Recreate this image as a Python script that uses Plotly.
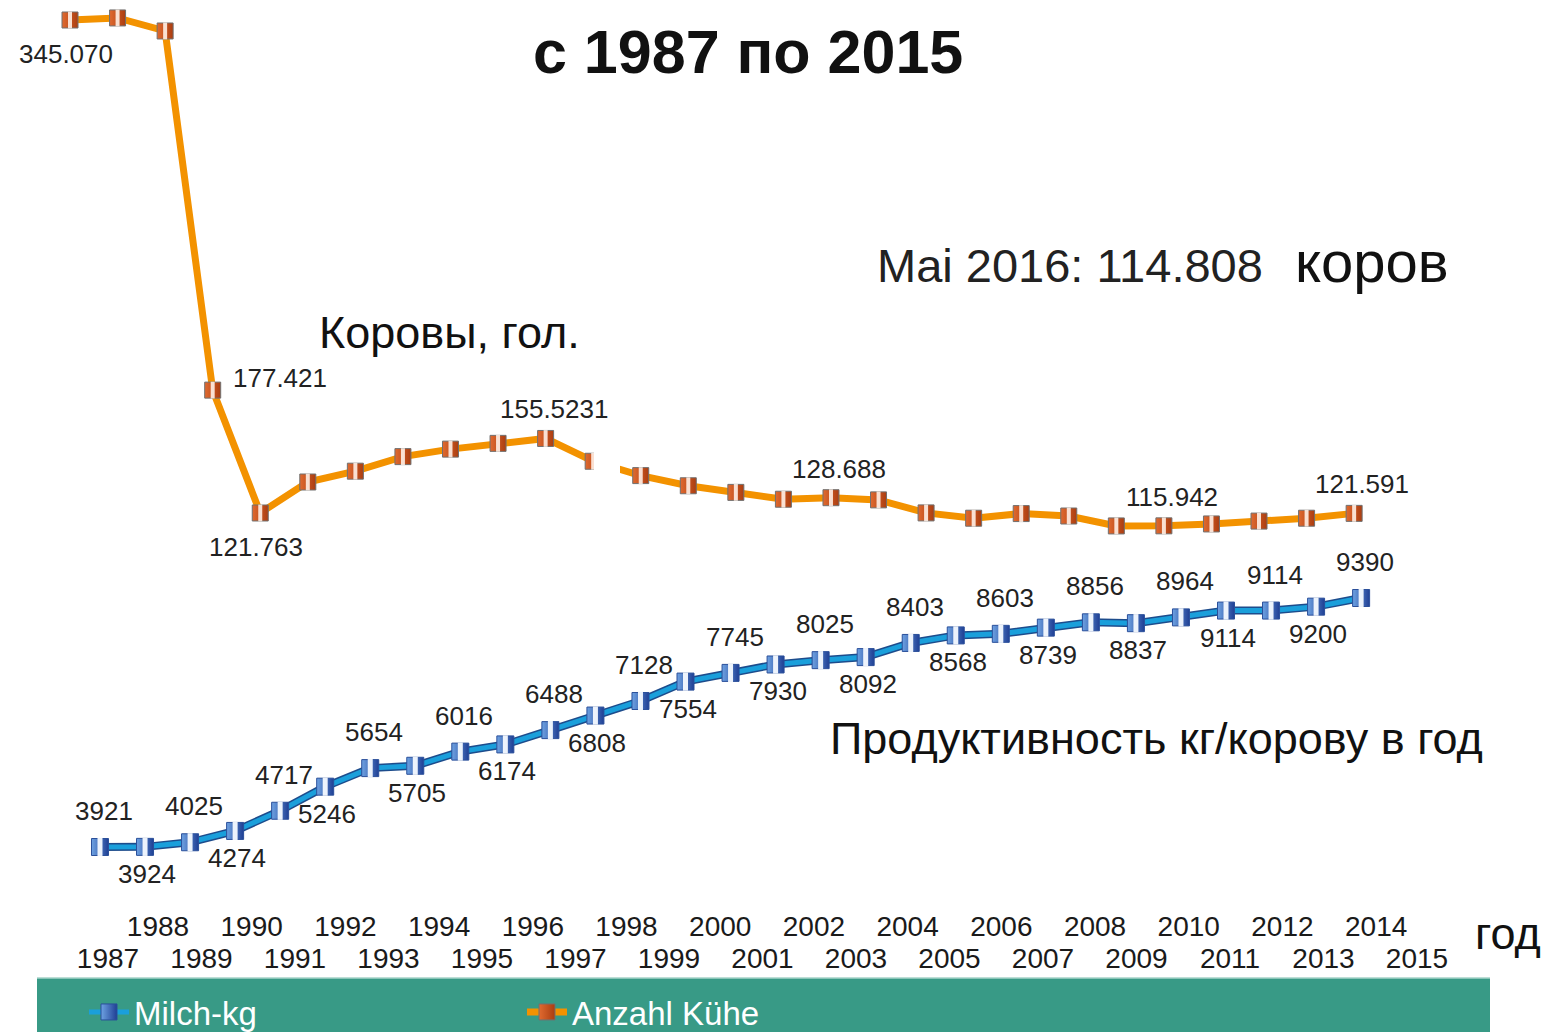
import plotly.graph_objects as go

# ---------------- data ----------------
years_milk = list(range(1987, 2016))
milk_kg = [3921, 3924, 4025, 4274, 4717, 5246, 5654, 5705, 6016, 6174,
           6488, 6808, 7128, 7554, 7745, 7930, 8025, 8092, 8403, 8568,
           8603, 8739, 8856, 8837, 8964, 9114, 9114, 9200, 9390]

years_cows = list(range(1987, 2015))
cows_thousand = [345.070, 346.0, 340.1, 177.421, 121.763, 135.8, 140.7, 147.3,
                 150.7, 153.3, 155.523, 145.2, 138.7, 134.1, 131.1, 128.0,
                 128.688, 127.7, 121.8, 119.4, 121.5, 120.4, 115.9, 115.942,
                 116.8, 118.1, 119.4, 121.591]
cow_labels = ["345.070", "", "", "177.421", "121.763", "", "", "", "", "",
              "155.5231", "", "", "", "", "", "128.688", "", "", "", "",
              "", "", "115.942", "", "", "", "121.591"]
cow_label_place = ["below", "", "", "right", "below", "", "", "", "", "",
                   "above", "", "", "", "", "", "above", "", "", "", "",
                   "", "", "above", "", "", "", "above"]

axis_years = list(range(1987, 2016))
odd_years = [y for y in axis_years if y % 2 == 1]
even_years = [y for y in axis_years if y % 2 == 0]

# ---------------- styles ----------------
W, H = 1542, 1032
SANS = "Liberation Sans, Arial, sans-serif"
ORANGE_LINE = "#f39200"
BLUE_LINE = "#1a9fdb"
BLUE_EDGE = "#1d4c8c"
TEAL = "#389a86"


def px(x, y):
    """page pixel -> paper fraction"""
    return x / W, 1 - y / H


fig = go.Figure()

# dummy traces so that the tick axes are drawn
fig.add_trace(go.Scatter(x=odd_years, y=[None] * len(odd_years), xaxis="x", yaxis="y",
                         showlegend=False, hoverinfo="skip", mode="markers"))
fig.add_trace(go.Scatter(x=even_years, y=[None] * len(even_years), xaxis="x2", yaxis="y",
                         showlegend=False, hoverinfo="skip", mode="markers"))

# cows series
fig.add_trace(go.Scatter(
    x=years_cows, y=cows_thousand, xaxis="x3", yaxis="y",
    mode="lines+markers", name="Anzahl Kühe", legendrank=2,
    line=dict(color=ORANGE_LINE, width=7),
    marker=dict(symbol="square", size=16, color="#e06a30",
                gradient=dict(type="horizontal", color="#ab3d10"),
                line=dict(color="#707070", width=1)),
    hoverinfo="x+y"))
fig.add_trace(go.Scatter(
    x=years_cows, y=cows_thousand, xaxis="x3", yaxis="y",
    mode="markers", showlegend=False, hoverinfo="skip",
    marker=dict(symbol="line-ns", size=12, line=dict(color="rgba(255,240,230,0.9)", width=4))))

# milk series
fig.add_trace(go.Scatter(
    x=years_milk, y=milk_kg, xaxis="x4", yaxis="y2",
    mode="lines", showlegend=False, hoverinfo="skip",
    line=dict(color=BLUE_EDGE, width=8)))
fig.add_trace(go.Scatter(
    x=years_milk, y=milk_kg, xaxis="x4", yaxis="y2",
    mode="lines+markers", name="Milch-kg", legendrank=1,
    line=dict(color=BLUE_LINE, width=5),
    marker=dict(symbol="square", size=17, color="#6ea2e2",
                gradient=dict(type="horizontal", color="#1f3f94"),
                line=dict(color="#2a4f9a", width=1)),
    hoverinfo="x+y"))
fig.add_trace(go.Scatter(
    x=years_milk, y=milk_kg, xaxis="x4", yaxis="y2",
    mode="markers", showlegend=False, hoverinfo="skip",
    marker=dict(symbol="line-ns", size=13, line=dict(color="rgba(245,250,255,0.95)", width=5))))

annotations = []
# cow value labels
for yr, v, txt, place in zip(years_cows, cows_thousand, cow_labels, cow_label_place):
    if not txt:
        continue
    a = dict(x=yr, y=v, xref="x3", yref="y", text=txt, showarrow=False,
             font=dict(family=SANS, size=26, color="#222222"))
    if place == "below":
        a.update(xanchor="center", yanchor="middle", xshift=-4, yshift=-34)
    elif place == "right":
        a.update(xanchor="left", yanchor="middle", xshift=18, yshift=12)
    else:
        a.update(xanchor="center", yanchor="middle", xshift=8, yshift=29)
    annotations.append(a)

# milk value labels (alternating above / below)
for i, (yr, v) in enumerate(zip(years_milk, milk_kg)):
    up = (i % 2 == 0)
    annotations.append(dict(x=yr, y=v, xref="x4", yref="y2", text=str(v), showarrow=False,
                            xanchor="center", yanchor="middle",
                            xshift=4 if up else 2, yshift=36 if up else -27,
                            font=dict(family=SANS, size=26, color="#222222")))


def text_ann(txt, x, y, size, anchor="left", bold=False, color="#111111"):
    xx, yy = px(x, y)
    annotations.append(dict(x=xx, y=yy, xref="paper", yref="paper",
                            text=("<b>%s</b>" % txt) if bold else txt,
                            showarrow=False, xanchor=anchor, yanchor="middle",
                            font=dict(family=SANS, size=size, color=color)))


text_ann("с 1987 по 2015", 748, 52, 61, anchor="center", bold=True)
text_ann("Mai 2016: 114.808", 875, 265, 47, color="#222222")
text_ann("коров", 1293, 261, 58, color="#111111")
text_ann("Коровы, гол.", 317, 332, 45)
text_ann("Продуктивность кг/корову в год", 828, 738, 45)
text_ann("год", 1473, 933, 45)

lx0, ly_top = px(37, 978)
lx1, _ = px(1490, 978)
gx0, gy1 = px(594, 448)
gx1, gy0 = px(620, 488)
shapes = [
    dict(type="rect", xref="paper", yref="paper", x0=lx0, x1=lx1, y0=0, y1=ly_top,
         fillcolor=TEAL, line=dict(width=0), layer="below"),
    dict(type="line", xref="paper", yref="paper", x0=lx0, x1=lx1, y0=ly_top, y1=ly_top,
         line=dict(color="#a6d3c9", width=1.5), layer="below"),
    # white gap artefact in the cows line
    dict(type="rect", xref="paper", yref="paper", x0=gx0, x1=gx1, y0=gy0, y1=gy1,
         fillcolor="white", line=dict(width=0), layer="above"),
]

leg_x, leg_y = px(84, 1012)
tickfont = dict(family=SANS, size=28, color="#1a1a1a")
fig.update_layout(
    width=W, height=H,
    margin=dict(l=0, r=0, t=0, b=0, autoexpand=False),
    paper_bgcolor="white", plot_bgcolor="white",
    showlegend=True,
    legend=dict(orientation="h", x=leg_x, y=leg_y, xanchor="left", yanchor="middle",
                bgcolor="rgba(0,0,0,0)", font=dict(family=SANS, size=33, color="white"),
                entrywidth=383, entrywidthmode="pixels", itemwidth=40, traceorder="normal"),
    xaxis=dict(domain=[0, 1], range=[1984.690, 2017.674], anchor="free", position=0.0901,
               tickmode="array", tickvals=odd_years, ticktext=[str(y) for y in odd_years],
               showgrid=False, zeroline=False, showline=False, ticks="", tickfont=tickfont),
    xaxis2=dict(domain=[0, 1], range=[1984.628, 2017.54], anchor="free", position=0.1211,
                overlaying="x",
                tickmode="array", tickvals=even_years, ticktext=[str(y) for y in even_years],
                showgrid=False, zeroline=False, showline=False, ticks="", tickfont=tickfont),
    xaxis3=dict(range=[1985.528, 2017.95], overlaying="x", visible=False),
    xaxis4=dict(range=[1984.780, 2019.016], overlaying="x", visible=False),
    yaxis=dict(domain=[0, 1], range=[-113.33, 354.13], visible=False),
    yaxis2=dict(range=[-142.4, 22524.5], overlaying="y", visible=False),
    annotations=annotations,
    shapes=shapes,
)

fig.write_html("out.html", config={"displayModeBar": False},
               post_script="document.body.style.margin='0px';document.body.style.overflow='hidden';")
